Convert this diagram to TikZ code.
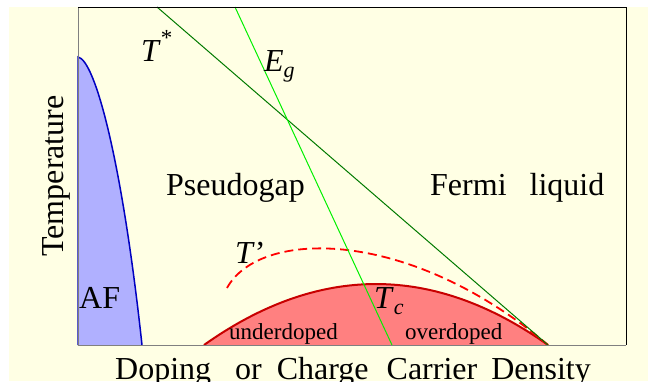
\documentclass[tikz,border=0pt]{standalone}
\definecolor{PDcream}{HTML}{FFFFE4}
\definecolor{PDlilac}{HTML}{B0B0FF}
\definecolor{PDnavy}{HTML}{0000C0}
\definecolor{PDsalmon}{HTML}{FF8080}
\definecolor{PDcrimson}{HTML}{C80000}
\definecolor{PDred}{HTML}{FF0000}
\definecolor{PDgreen}{HTML}{007A00}
\definecolor{PDlime}{HTML}{00F000}
\definecolor{PDgray}{HTML}{808080}
\usepackage{fontspec}
\setmainfont{Liberation Serif}
\usetikzlibrary{positioning}
\newcommand{\bigtxt}{\fontsize{32}{38}\selectfont}
\newcommand{\smalltxt}{\fontsize{23}{27}\selectfont}
\newcommand{\subtxt}{\fontsize{22}{24}\selectfont}
\tikzset{
  lbl/.style={inner sep=0pt, anchor=base west, font=\bigtxt},
  sublbl/.style={inner sep=0pt, anchor=base west, font=\smalltxt}
}
\begin{document}
\begin{tikzpicture}[x=1pt,y=-1pt]
      \useasboundingbox (0,0) rectangle (648,381);
      % Background
      \fill[PDcream] (9,7) rectangle (648,381);
      % AF region
      \filldraw[fill=PDlilac, draw=PDnavy, line width=1.5pt]
         (78,345) -- (78,57) .. controls (95,60) and (122,160) .. (142,345);
      % T_c dome
      \filldraw[fill=PDsalmon, draw=PDcrimson, line width=2pt]
         (204,345) .. controls (318.7,263.7) and (433.3,263.7) .. (548,345);
      % T' (dashed)
      \draw[PDred, line width=1.8pt, dash pattern=on 9pt off 5pt]
         (227,288) .. controls (260,228) and (410,228) .. (548,345);
      % T* line
      \draw[PDgreen, line width=1pt] (157,7) -- (548,345);
      % E_g line
      \draw[PDlime, line width=1pt] (235,7) -- (392,345);
      % Frame
      \draw[PDgray, line width=1pt] (626,345) -- (78,345) -- (78,7);
      \draw[black, line width=1pt] (78,7) -- (626,7) -- (626,345);
      % Labels
      \node[lbl] (tstar) at (141,61) {\textit{T}\raisebox{0.5em}{\smalltxt*}};
      \node[lbl] (eg) at (264,71) {\textit{E}\raisebox{-0.2em}{\subtxt\textit{g}}};
      \node[lbl] (pgap) at (166,195) {Pseudogap};
      \node[lbl] (fermi) at (430,195) {Fermi\hspace{23pt}liquid};
      \node[lbl] (tprime) at (235,263) {\textit{T}’};
      \node[lbl] (af) at (79,308) {AF};
      \node[lbl] (tc) at (374,308) {\textit{T}\raisebox{-0.2em}{\subtxt\textit{c}}};
      \node[sublbl] (under) at (229,339) {underdoped};
      \node[sublbl] (over) at (405,339) {overdoped};
      % Axis titles
      \node[inner sep=0pt, anchor=base, rotate=90, font=\bigtxt] (temp) at (63,176) {Temperature};
      \node[lbl] (dens) at (115,379)
         {Doping\hspace{24pt}or\hspace{15pt}Charge\hspace{18pt}Carrier\hspace{14pt}Density};
   \end{tikzpicture}
\end{document}
